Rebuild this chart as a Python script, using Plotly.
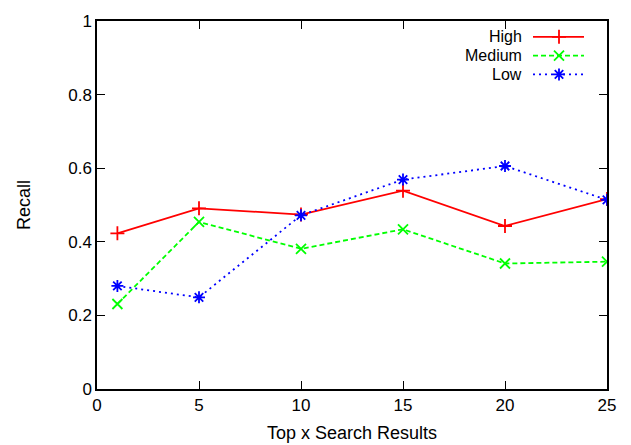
import plotly.graph_objects as go

x_vals = [1, 5, 10, 15, 20, 25]
high = [0.423, 0.491, 0.474, 0.539, 0.443, 0.516]
medium = [0.231, 0.454, 0.381, 0.434, 0.341, 0.346]
low = [0.280, 0.249, 0.472, 0.569, 0.606, 0.514]

series_names = ["High", "Medium", "Low"]
series_vals = [high, medium, low]
colors = ["#ff0000", "#00ff00", "#0000ff"]
dashes = ["solid", "5px,3px", "2px,4px"]
symbols = ["cross-thin-open", "x-thin-open", "asterisk-open"]

x_ticks = [0, 5, 10, 15, 20, 25]
y_ticks = [0, 0.2, 0.4, 0.6, 0.8, 1]
y_tick_labels = ["0", "0.2", "0.4", "0.6", "0.8", "1"]

FONT = "Liberation Sans, Arial, sans-serif"
W, H = 631, 445
L, R, T, B = 97, 24, 17, 56

fig = go.Figure()
for name, vals, c, d, s in zip(series_names, series_vals, colors, dashes, symbols):
    fig.add_trace(go.Scatter(
        x=x_vals, y=vals, mode="lines+markers", name=name,
        line=dict(color=c, width=1.8, dash=d),
        marker=dict(symbol=s, size=10, color=c, line=dict(color=c, width=1.8)),
        showlegend=False,
    ))

# manual gnuplot-style legend (text then sample) on an overlay axis in pixel units
legend_rows_y = [33, 52, 71]
for name, c, d, s, py in zip(series_names, colors, dashes, symbols, legend_rows_y):
    fig.add_trace(go.Scatter(
        x=[533, 584], y=[py, py], mode="lines", xaxis="x2", yaxis="y2",
        line=dict(color=c, width=1.8, dash=d), showlegend=False, hoverinfo="skip",
    ))
    fig.add_trace(go.Scatter(
        x=[559], y=[py], mode="markers", xaxis="x2", yaxis="y2",
        marker=dict(symbol=s, size=10, color=c, line=dict(color=c, width=1.8)),
        showlegend=False, hoverinfo="skip",
    ))
    fig.add_annotation(x=(523 - L) / (W - L - R), y=1 - (py - T) / (H - T - B),
                       xref="paper", yref="paper", text=name, showarrow=False,
                       xanchor="right", yanchor="middle", borderpad=0,
                       font=dict(family=FONT, size=16, color="black"))

fig.update_layout(
    width=W, height=H,
    margin=dict(l=L, r=R, t=T, b=B),
    paper_bgcolor="white", plot_bgcolor="white",
    font=dict(family=FONT, size=17, color="black"),
    xaxis=dict(range=[0, 25], tickvals=x_ticks, ticks="inside", ticklen=8,
               tickcolor="black", showline=True, linecolor="black", linewidth=1.5,
               mirror="allticks", showgrid=False, zeroline=False,
               tickfont=dict(family=FONT, size=17)),
    yaxis=dict(range=[0, 1], tickvals=y_ticks, ticktext=y_tick_labels,
               ticks="inside", ticklen=8, tickcolor="black", showline=True,
               linecolor="black", linewidth=1.5, mirror="allticks", showgrid=False,
               zeroline=False, tickfont=dict(family=FONT, size=17)),
    xaxis2=dict(range=[L, W - R], overlaying="x", visible=False, fixedrange=True),
    yaxis2=dict(range=[H - B, T], overlaying="y", visible=False, fixedrange=True),
    annotations=list(fig.layout.annotations) + [
        dict(text="Top x Search Results", x=0.5, y=-(433 - (H - B)) / (H - T - B),
             xref="paper", yref="paper", showarrow=False, yanchor="middle",
             font=dict(family=FONT, size=18)),
        dict(text="Recall", x=-(L - 24) / (W - L - R), y=0.5, xref="paper",
             yref="paper", showarrow=False, textangle=-90, xanchor="center",
             font=dict(family=FONT, size=18)),
    ],
)

fig.write_html("out.html")
